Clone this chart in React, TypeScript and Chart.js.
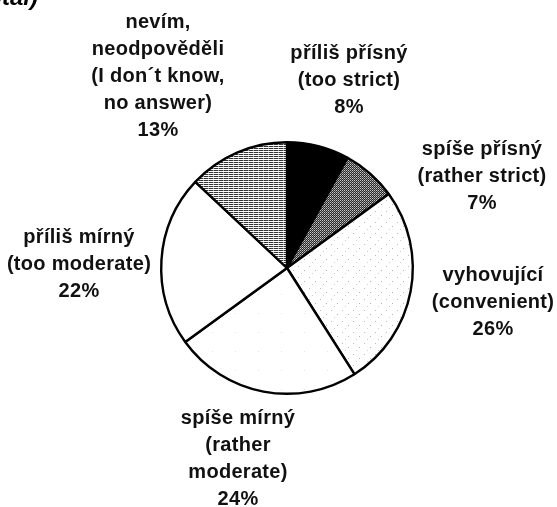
import React, { useEffect, useRef } from "react";
import { Chart, registerables } from "chart.js";

Chart.register(...registerables);

const categories = [
  "příliš přísný (too strict)",
  "spíše přísný (rather strict)",
  "vyhovující (convenient)",
  "spíše mírný (rather moderate)",
  "příliš mírný (too moderate)",
  "nevím, neodpověděli (I don´t know, no answer)",
];

const values = [8, 7, 26, 24, 22, 13];

const labelTexts = [
  ["příliš přísný", "(too strict)"],
  ["spíše přísný", "(rather strict)"],
  ["vyhovující", "(convenient)"],
  ["spíše mírný", "(rather", "moderate)"],
  ["příliš mírný", "(too moderate)"],
  ["nevím,", "neodpověděli", "(I don´t know,", "no answer)"],
];

const cornerText = "(total)";

// label placement offsets relative to pie centre (first line centre)
const labelOffsets = [
  [62, -215],
  [195, -119],
  [206, 7],
  [-49, 150],
  [-208, -31],
  [-129, -246],
];

function makePattern(w: number, h: number, draw: (c: CanvasRenderingContext2D) => void) {
  const cv = document.createElement("canvas");
  cv.width = w;
  cv.height = h;
  const c = cv.getContext("2d")!;
  draw(c);
  const ref = document.createElement("canvas").getContext("2d")!;
  return ref.createPattern(cv, "repeat") as CanvasPattern;
}

function px(c: CanvasRenderingContext2D, x: number, y: number, col: string) {
  c.fillStyle = col;
  c.fillRect(x, y, 1, 1);
}

export default function App() {
  const ref = useRef<HTMLCanvasElement | null>(null);

  useEffect(() => {
    if (!ref.current) return;

    const crossPat = makePattern(2, 2, (c) => {
      c.fillStyle = "#2a2a2a";
      c.fillRect(0, 0, 2, 2);
      px(c, 0, 0, "#c8c8c8");
      px(c, 1, 1, "#8a8a8a");
    });
    const speckPat = makePattern(11, 11, (c) => {
      c.fillStyle = "#ffffff";
      c.fillRect(0, 0, 11, 11);
      px(c, 1, 2, "#bcbcbc");
      px(c, 7, 6, "#b4b4b4");
      px(c, 4, 9, "#d0d0d0");
    });
    const faintPat = makePattern(23, 19, (c) => {
      c.fillStyle = "#ffffff";
      c.fillRect(0, 0, 23, 19);
      px(c, 5, 9, "#e4e4e4");
    });
    const linePat = makePattern(5, 2, (c) => {
      c.fillStyle = "#ffffff";
      c.fillRect(0, 0, 5, 2);
      c.fillStyle = "#333333";
      c.fillRect(0, 0, 5, 1);
      px(c, 3, 0, "#aaaaaa");
    });

    const fills: any[] = ["#000000", crossPat, speckPat, faintPat, "#ffffff", linePat];

    const labelPlugin = {
      id: "outerLabels",
      afterDraw(chart: any) {
        const ctx = chart.ctx as CanvasRenderingContext2D;
        const meta = chart.getDatasetMeta(0);
        ctx.save();
        ctx.fillStyle = "#111111";
        ctx.font = "bold 20px 'Liberation Sans', Arial, sans-serif";
        (ctx as any).letterSpacing = "0.3px";
        ctx.textAlign = "center";
        ctx.textBaseline = "middle";
        meta.data.forEach((arc: any, i: number) => {
          const cx = arc.x + labelOffsets[i][0];
          let cy = arc.y + labelOffsets[i][1];
          const lines = [...labelTexts[i], values[i] + "%"];
          lines.forEach((t) => {
            ctx.fillText(t, cx, cy);
            cy += 27.2;
          });
        });
        (ctx as any).letterSpacing = "0px";
        ctx.font = "italic bold 24px 'Liberation Sans', Arial, sans-serif";
        ctx.textAlign = "right";
        ctx.textBaseline = "alphabetic";
        ctx.fillStyle = "#000";
        ctx.fillText(cornerText, 38, 5);
        ctx.restore();
      },
    };

    const chart = new Chart(ref.current, {
      type: "pie",
      data: {
        labels: categories,
        datasets: [
          {
            data: values,
            backgroundColor: fills,
            borderColor: "#000000",
            borderWidth: 2.4,
          },
        ],
      },
      options: {
        responsive: false,
        animation: false,
        layout: { padding: { left: 160, top: 141, right: 143, bottom: 112 } },
        plugins: {
          legend: { display: false },
          tooltip: { enabled: false },
        },
      },
      plugins: [labelPlugin],
    });

    return () => chart.destroy();
  }, []);

  return (
    <div style={{ position: "absolute", left: 0, top: 0, width: 557, height: 507, background: "#fff" }}>
      <canvas ref={ref} width={557} height={507} style={{ display: "block" }} />
    </div>
  );
}
